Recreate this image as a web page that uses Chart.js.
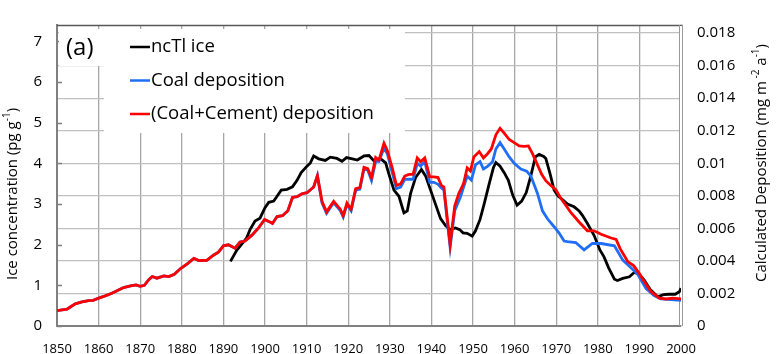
<!DOCTYPE html>
<html>
<head>
<meta charset="utf-8">
<script src="https://cdn.jsdelivr.net/npm/chart.js@4.4.1/dist/chart.umd.min.js"></script>
<style>
  html, body { margin: 0; padding: 0; background: #fff; }
  canvas { display: block; }
</style>
</head>
<body>
<canvas id="chart" width="779" height="354"></canvas>
<script>
// ncTl ice concentration (pg g-1), left axis
const iceYears = [1891.7, 1893.2, 1894.4, 1895.6, 1896.4, 1897.6, 1898.8, 1900, 1900.9, 1902.1,
  1902.9, 1903.9, 1905.3, 1906.6, 1907.7, 1908.7, 1910.1, 1910.9, 1911.7, 1912.9,
  1914.5, 1915.7, 1917.3, 1918.5, 1919.6, 1921, 1922.2, 1923.8, 1925, 1926.2,
  1927.8, 1929, 1929.8, 1931, 1932.2, 1933.4, 1934.2, 1935, 1936.2, 1937.6,
  1938.6, 1939.8, 1941, 1942.2, 1943.4, 1944.5, 1945.8, 1946.8, 1947.6, 1948.6,
  1949.8, 1950.6, 1951.7, 1952.7, 1953.9, 1954.9, 1955.5, 1956.5, 1957.5, 1958.5,
  1959.5, 1960.6, 1961.7, 1962.8, 1963.9, 1965, 1965.9, 1967, 1967.5, 1968.5,
  1969.5, 1970.5, 1971.5, 1972.7, 1974.3, 1975.5, 1976.3, 1977.5, 1979.1, 1980.5,
  1981.5, 1982.6, 1984, 1984.7, 1986, 1987.6, 1988.8, 1990, 1991.2, 1992.6,
  1994.4, 1995.8, 1997, 1998.6, 1999.6, 2000];
const iceValues = [1.59, 1.86, 2.01, 2.17, 2.37, 2.58, 2.65, 2.91, 3.04, 3.07,
  3.19, 3.34, 3.36, 3.42, 3.58, 3.77, 3.93, 4.01, 4.18, 4.11,
  4.07, 4.15, 4.12, 4.05, 4.14, 4.11, 4.08, 4.18, 4.19, 4.06,
  4.11, 4.01, 3.73, 3.34, 3.19, 2.78, 2.83, 3.26, 3.65, 3.85,
  3.69, 3.34, 2.99, 2.64, 2.47, 2.37, 2.41, 2.37, 2.29, 2.28,
  2.21, 2.34, 2.62, 3.01, 3.5, 3.89, 4.02, 3.93, 3.77, 3.58,
  3.23, 2.97, 3.07, 3.28, 3.69, 4.16, 4.22, 4.17, 4.12, 3.75,
  3.34, 3.19, 3.11, 3.0, 2.93, 2.83, 2.72, 2.52, 2.23, 1.87,
  1.7, 1.43, 1.15, 1.12, 1.17, 1.21, 1.32, 1.27, 1.12, 0.9,
  0.72, 0.77, 0.78, 0.78, 0.84, 0.93];

// Coal deposition (mg m-2 a-1), right axis
const coalYears = [1850, 1852.4, 1853.2, 1854.4, 1856, 1857.6, 1858.7, 1860, 1861.6, 1863.2,
  1864.8, 1866, 1867.7, 1869, 1870, 1871, 1872, 1872.9, 1874, 1875.7,
  1876.9, 1878.2, 1879.7, 1881.3, 1882.9, 1884.1, 1886, 1887.6, 1888.8, 1890,
  1891.2, 1892.8, 1894, 1895.2, 1896.8, 1898.4, 1899.9, 1900.9, 1901.8, 1902.9,
  1904.2, 1905.5, 1906.6, 1907.7, 1908.9, 1910.1, 1911.7, 1912.6,
  1913.7, 1914.8, 1916.5, 1918.1, 1918.8, 1919.7, 1920.7, 1921.8, 1922.8, 1923.8,
  1924.7, 1925.6, 1926.6, 1927.4, 1928.6, 1929.4, 1930.6, 1931.6, 1932.6, 1933.6,
  1934.6, 1935.6, 1936.6, 1937.4, 1938.4, 1939.6, 1940.6, 1941.6, 1942.4, 1943,
  1944.5, 1945.6, 1947, 1948.6, 1949.6, 1950.6, 1951.7, 1952.5, 1953.5, 1954.7,
  1955.5, 1956.5, 1957.5, 1958.7, 1959.9, 1961.5, 1962.9, 1963.9, 1965.5, 1966.7,
  1967.9, 1969.5, 1970.7, 1971.9, 1972.7, 1974.7, 1976.7, 1978.7, 1980.8, 1984,
  1986, 1987.6, 1989.6, 1991.6, 1993.6, 1995.2, 1997.6, 2000];
const coalValues = [0.00094, 0.00104, 0.00117, 0.00136, 0.00148, 0.00156, 0.00158, 0.00171, 0.00185, 0.00201,
  0.00221, 0.00236, 0.00246, 0.00253, 0.00244, 0.0025, 0.00283, 0.00304, 0.00294, 0.00308,
  0.00304, 0.00318, 0.00353, 0.00382, 0.00415, 0.00402, 0.00404, 0.00435, 0.00454, 0.00493,
  0.00499, 0.00478, 0.00516, 0.00522, 0.00557, 0.00601, 0.00655, 0.00643, 0.0063, 0.00673,
  0.00678, 0.00708, 0.0079, 0.00795, 0.00813, 0.00819, 0.00854, 0.00924,
  0.00757, 0.00693, 0.00757, 0.00709, 0.0067, 0.00747, 0.00709, 0.00835, 0.00841, 0.00966,
  0.00958, 0.00895, 0.01012, 0.01012, 0.01094, 0.01059, 0.00942, 0.00844, 0.00854, 0.00901,
  0.00902, 0.00902, 0.01, 0.00983, 0.0101, 0.00883, 0.00883, 0.00871, 0.00848, 0.00836,
  0.00484, 0.00708, 0.00795, 0.00922, 0.00897, 0.0099, 0.0101, 0.00965, 0.00981, 0.0101,
  0.01088, 0.01127, 0.01088, 0.01039, 0.01, 0.00965, 0.00952, 0.00922, 0.00815, 0.00708,
  0.00659, 0.0061, 0.00571, 0.00522, 0.00519, 0.00513, 0.00468, 0.00507, 0.00507, 0.00493,
  0.00405, 0.00367, 0.00318, 0.0023, 0.00185, 0.00166, 0.00162, 0.00158];

// (Coal+Cement) deposition (mg m-2 a-1), right axis
const cementYears = [1850, 1852.4, 1853.2, 1854.4, 1856, 1857.6, 1858.7, 1860, 1861.6, 1863.2,
  1864.8, 1866, 1867.7, 1869, 1870, 1871, 1872, 1872.9, 1874, 1875.7,
  1876.9, 1878.2, 1879.7, 1881.3, 1882.9, 1884.1, 1886, 1887.6, 1888.8, 1890,
  1891.2, 1892.8, 1894, 1895.2, 1896.8, 1898.4, 1899.9, 1900.9, 1901.8, 1902.9,
  1904.2, 1905.5, 1906.6, 1907.7, 1908.9, 1910.1, 1911.7, 1912.6, 1913.7, 1914.8,
  1916.5, 1918.1, 1918.8, 1919.7, 1920.7, 1921.8, 1922.8, 1923.8, 1924.7, 1925.6,
  1926.6, 1927.4, 1928.6, 1929.4, 1930.6, 1931.6, 1932.6, 1933.6, 1934.6, 1935.6,
  1936.6, 1937.4, 1938.4, 1939.6, 1940.6, 1941.6, 1942.4, 1943, 1944.5, 1945.6,
  1946.6, 1947.7, 1948.6, 1949.4, 1950.2, 1951.5, 1952.5, 1953.5, 1954.4, 1955.5,
  1956.5, 1957.5, 1958.7, 1959.9, 1961.1, 1962.3, 1963.3, 1964.3, 1965.5, 1966.5,
  1967.5, 1968.7, 1969.9, 1971.1, 1972.3, 1973.5, 1975.5, 1977.5, 1979.1, 1980.8,
  1983.2, 1984.4, 1985.4, 1987.2, 1988.6, 1990, 1990.8, 1992.8, 1994.8, 1996.4,
  1998, 2000];
const cementValues = [0.00094, 0.00104, 0.00117, 0.00136, 0.00148, 0.00156, 0.00158, 0.00171, 0.00185, 0.00201,
  0.00221, 0.00236, 0.00246, 0.00253, 0.00244, 0.0025, 0.00283, 0.00304, 0.00294, 0.00308,
  0.00304, 0.00318, 0.00353, 0.00382, 0.00415, 0.00402, 0.00404, 0.00435, 0.00454, 0.00493,
  0.00499, 0.00478, 0.00516, 0.00522, 0.00557, 0.00601, 0.00655, 0.00643, 0.0063, 0.00673,
  0.00678, 0.00708, 0.0079, 0.00795, 0.00813, 0.00819, 0.00854, 0.00924, 0.00766, 0.00702,
  0.00766, 0.00718, 0.00678, 0.00756, 0.00718, 0.00844, 0.0085, 0.00975, 0.00967, 0.00912,
  0.01035, 0.01019, 0.01123, 0.01078, 0.00971, 0.00864, 0.00873, 0.00922, 0.00932, 0.00932,
  0.01033, 0.0101, 0.01033, 0.00916, 0.00916, 0.00912, 0.00864, 0.00854, 0.00503, 0.00737,
  0.00815, 0.00873, 0.00971, 0.00952, 0.01039, 0.01072, 0.01033, 0.01059, 0.01088, 0.01175,
  0.01215, 0.01185, 0.01146, 0.01127, 0.01107, 0.01104, 0.01107, 0.01059, 0.0099, 0.00932,
  0.00893, 0.00864, 0.00838, 0.00785, 0.00743, 0.00698, 0.00639, 0.00585, 0.00585, 0.00564,
  0.00541, 0.00532, 0.00474, 0.00396, 0.00371, 0.00322, 0.00288, 0.00211, 0.00171, 0.00166,
  0.00171, 0.00167];

// tick labels
const yearTicks = [1850, 1860, 1870, 1880, 1890, 1900, 1910, 1920, 1930, 1940, 1950, 1960, 1970, 1980, 1990, 2000];
const iceTicks = [0, 1, 2, 3, 4, 5, 6, 7];
const depTicks = [0, 0.002, 0.004, 0.006, 0.008, 0.01, 0.012, 0.014, 0.016, 0.018];

const seriesNames = ['ncTl ice', 'Coal deposition', '(Coal+Cement) deposition'];
const seriesColors = ['#000000', '#1f6ef5', '#ff0000'];

const FONT = '"Open Sans", sans-serif';
Chart.defaults.font.family = FONT;
Chart.defaults.color = '#000';

const toPoints = (xs, ys) => xs.map((x, i) => ({ x: x, y: ys[i] }));

function drawRich(ctx, parts, cx, cy) {
  ctx.save();
  ctx.translate(cx, cy);
  ctx.rotate(-Math.PI / 2);
  const big = '15px ' + FONT, small = '10px ' + FONT;
  let total = 0;
  parts.forEach(p => { ctx.font = p.sup ? small : big; total += ctx.measureText(p.t).width; });
  let x = -total / 2;
  ctx.textBaseline = 'middle';
  ctx.fillStyle = '#000';
  parts.forEach(p => {
    ctx.font = p.sup ? small : big;
    ctx.fillText(p.t, x, p.sup ? -6 : 0);
    x += ctx.measureText(p.t).width;
  });
  ctx.restore();
}

const decor = {
  id: 'decor',
  beforeDatasetsDraw(chart) {
    const { ctx, chartArea: a } = chart;
    const yL = chart.scales.yL;
    ctx.save();
    // inner ticks of the left axis
    ctx.strokeStyle = '#808080';
    ctx.lineWidth = 1.5;
    iceTicks.forEach(v => {
      const y = Math.round(yL.getPixelForValue(v)) + 0.5;
      ctx.beginPath(); ctx.moveTo(a.left, y); ctx.lineTo(a.left + 5, y); ctx.stroke();
    });
    // boxes behind "(a)" and the legend
    ctx.fillStyle = '#fff';
    ctx.fillRect(a.left + 2, a.top + 4, 45, 37);
    ctx.fillRect(a.left + 47, a.top + 4, 301, 104);
    // frame: top and double right edge
    ctx.strokeStyle = '#595959';
    ctx.lineWidth = 1.5;
    ctx.beginPath(); ctx.moveTo(a.left, a.top + 0.5); ctx.lineTo(a.right + 2, a.top + 0.5); ctx.stroke();
    ctx.fillStyle = '#fff';
    ctx.fillRect(a.right - 2, a.top + 1, 4, a.bottom - a.top - 2);
    ctx.strokeStyle = '#9a9a9a';
    ctx.lineWidth = 1;
    [a.right - 1.5, a.right + 1.5].forEach(x => {
      ctx.beginPath(); ctx.moveTo(x, a.top); ctx.lineTo(x, a.bottom); ctx.stroke();
    });
    // "(a)"
    ctx.fillStyle = '#000';
    ctx.font = '24px ' + FONT;
    ctx.textBaseline = 'middle';
    ctx.fillText('(a)', a.left + 9, a.top + 23);
    // legend
    ctx.font = '18.5px ' + FONT;
    seriesNames.forEach((name, i) => {
      const y = a.top + 22 + i * 33.5;
      ctx.strokeStyle = seriesColors[i];
      ctx.lineWidth = 2.5;
      ctx.beginPath(); ctx.moveTo(a.left + 73, y); ctx.lineTo(a.left + 93, y); ctx.stroke();
      ctx.fillText(name, a.left + 94, y);
    });
    ctx.restore();
  },
  afterDraw(chart) {
    const { ctx } = chart;
    drawRich(ctx, [{ t: 'Ice concentration (pg g' }, { t: '-1', sup: true }, { t: ')' }], 13, 194);
    drawRich(ctx, [{ t: 'Calculated Deposition (mg m' }, { t: ' -2', sup: true }, { t: ' a' }, { t: '-1', sup: true }, { t: ')' }], 762, 163);
  }
};

new Chart(document.getElementById('chart').getContext('2d'), {
  type: 'line',
  data: {
    datasets: [
      { label: seriesNames[0], data: toPoints(iceYears, iceValues), yAxisID: 'yL',
        borderColor: seriesColors[0], borderWidth: 2.8, pointRadius: 0, order: 3 },
      { label: seriesNames[1], data: toPoints(coalYears, coalValues), yAxisID: 'yR',
        borderColor: seriesColors[1], borderWidth: 2.8, pointRadius: 0, order: 2 },
      { label: seriesNames[2], data: toPoints(cementYears, cementValues), yAxisID: 'yR',
        borderColor: seriesColors[2], borderWidth: 2.8, pointRadius: 0, order: 1 },
    ],
  },
  options: {
    responsive: false,
    devicePixelRatio: 1,
    animation: false,
    layout: { padding: { top: 11, left: 0, right: 0, bottom: 0 } },
    plugins: { legend: { display: false }, tooltip: { enabled: false } },
    scales: {
      x: {
        type: 'linear', min: 1850, max: 2000,
        afterBuildTicks: s => { s.ticks = yearTicks.map(v => ({ value: v })); },
        afterFit: s => { s.height = 28; },
        ticks: { callback: v => String(v), font: { size: 13 }, padding: 15, maxRotation: 0, autoSkip: false },
        grid: { color: '#a6a6a6', lineWidth: 1.3, drawTicks: false },
        border: { color: '#808080', width: 2 },
      },
      yL: {
        position: 'left', min: 0, max: 7.4,
        afterBuildTicks: s => { s.ticks = iceTicks.map(v => ({ value: v })); },
        afterFit: s => { s.width = 57; },
        ticks: { font: { size: 15 }, padding: 15 },
        grid: { drawOnChartArea: false, drawTicks: false },
        border: { color: '#808080', width: 2 },
      },
      yR: {
        position: 'right', min: 0, max: 0.0185,
        afterBuildTicks: s => { s.ticks = depTicks.map(v => ({ value: v })); },
        afterFit: s => { s.width = 98; },
        ticks: { callback: v => String(+v.toFixed(3)), font: { size: 15 }, padding: 16 },
        grid: { color: '#c0c0c0', lineWidth: 1.3, drawTicks: false },
        border: { display: false },
      },
    },
  },
  plugins: [decor],
});
</script>
</body>
</html>
